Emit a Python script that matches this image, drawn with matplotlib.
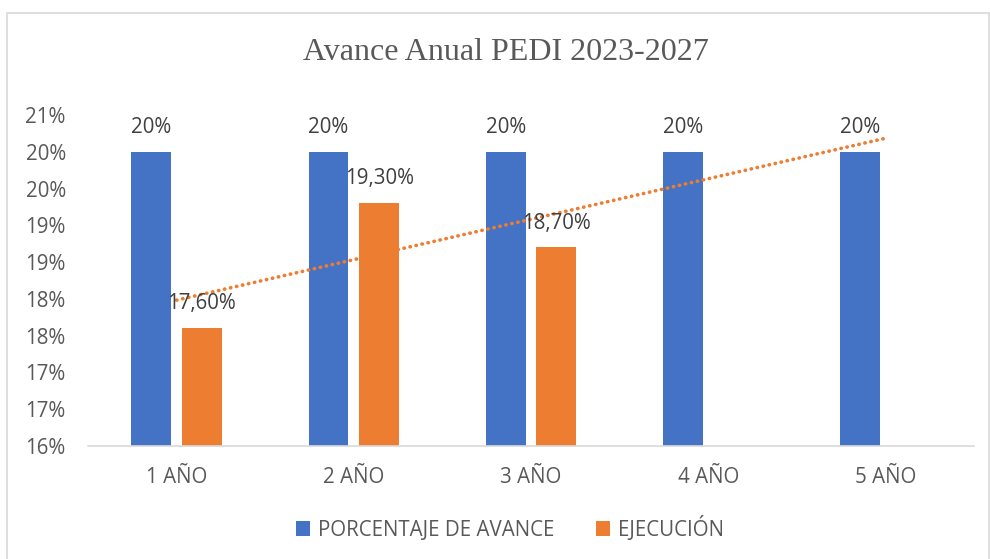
import matplotlib.pyplot as plt
import numpy as np
from matplotlib.patches import Rectangle
from matplotlib.ticker import FuncFormatter

categories = ['1 AÑO', '2 AÑO', '3 AÑO', '4 AÑO', '5 AÑO']
avance = [20.0, 20.0, 20.0, 20.0, 20.0]
ejecucion = [17.6, 19.3, 18.7]
avance_labels = ['20%', '20%', '20%', '20%', '20%']
ejecucion_labels = ['17,60%', '19,30%', '18,70%']
series_names = ['PORCENTAJE DE AVANCE', 'EJECUCIÓN']

BLUE = '#4472C4'
ORANGE = '#ED7D31'
TXT = '#595959'
SANS = ['Open Sans', 'DejaVu Sans']
FS = 14.8

fig = plt.figure(figsize=(9.9, 5.59), dpi=100)
# chart border (outer frame)
fig.patches.append(Rectangle((7 / 990, -0.05), 982 / 990, 1.05 - 13 / 559,
                             transform=fig.transFigure, fill=False,
                             edgecolor='#d9d9d9', lw=1.2))

ax = fig.add_axes([88 / 990, 113 / 559, 886 / 990, 331 / 559])
x = np.arange(1, len(categories) + 1)
w = 0.225
off = 0.143
ax.bar(x - off, avance, w, color=BLUE, label=series_names[0], zorder=2)
xe = x[:len(ejecucion)]
ax.bar(xe + off, ejecucion, w, color=ORANGE, label=series_names[1], zorder=2)

# linear trendline of the execution series
coef = np.polyfit(xe, ejecucion, 1)
xt = np.array([x[0], x[-1]])
ax.plot(xt, np.polyval(coef, xt), color=ORANGE, lw=2.6,
        linestyle=(0, (0.1, 1.6)), dash_capstyle='round', zorder=3)

for xi, v, s in zip(x, avance, avance_labels):
    ax.annotate(s, (xi - off, v), xytext=(0, 10), textcoords='offset points',
                ha='center', va='bottom', fontsize=FS, color='#404040', family=SANS)
for xi, v, s in zip(xe, ejecucion, ejecucion_labels):
    ax.annotate(s, (xi + off, v), xytext=(0, 10), textcoords='offset points',
                ha='center', va='bottom', fontsize=FS, color='#404040', family=SANS)

ax.set_xlim(0.5, 5.5)
ax.set_ylim(16, 20.5)
ax.set_yticks(np.arange(16, 20.51, 0.5))
ax.yaxis.set_major_formatter(FuncFormatter(lambda v, p: '%d%%' % int(np.floor(v + 0.5))))
ax.set_xticks(x)
ax.set_xticklabels(categories)
for lab in ax.get_xticklabels() + ax.get_yticklabels():
    lab.set_family(SANS)
    lab.set_fontsize(FS)
    lab.set_color(TXT)
ax.tick_params(axis='both', length=0)
ax.tick_params(axis='y', pad=16)
ax.tick_params(axis='x', pad=15)
for sp in ['top', 'right', 'left']:
    ax.spines[sp].set_visible(False)
ax.spines['bottom'].set_color('#d9d9d9')
ax.spines['bottom'].set_linewidth(1.2)

fig.text(506 / 990, 1 - 53 / 559, 'Avance Anual PEDI 2023-2027', ha='center', va='center',
         fontsize=23, family='Liberation Serif', color='#595959')

leg = fig.legend(loc='center', bbox_to_anchor=(510 / 990, 1 - 528 / 559), ncol=2,
                 frameon=False, handlelength=0.7, handleheight=0.7,
                 handletextpad=0.4, columnspacing=2.0,
                 prop={'family': SANS, 'size': FS})
for t in leg.get_texts():
    t.set_color(TXT)

fig.savefig('out.png', dpi=100)
